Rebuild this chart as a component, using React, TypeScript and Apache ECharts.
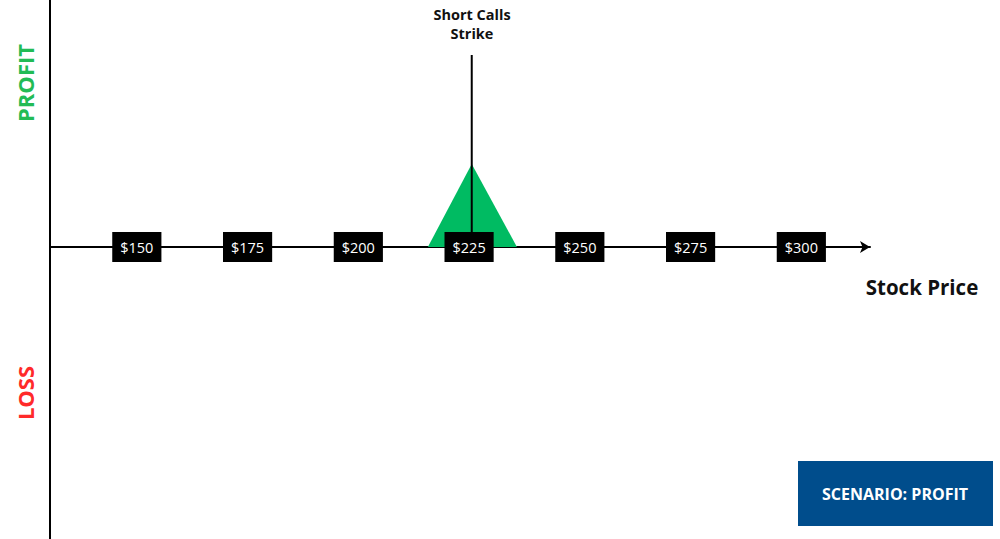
import React, { useEffect, useRef } from "react";
import * as echarts from "echarts";

const priceTicks = [150, 175, 200, 225, 250, 275, 300];
const strikePrice = 225.6;
const strikeLineTop = 192;
const profitTriangle: [number, number][] = [
  [215.7, 0],
  [225.6, 83],
  [235.8, 0],
];
const xTitle = "Stock Price";
const strikeTitle = "Short Calls\nStrike";
const scenarioText = "SCENARIO: PROFIT";

export default function App() {
  const ref = useRef<HTMLDivElement>(null);
  useEffect(() => {
    document.body.style.margin = "0";
    const chart = echarts.init(ref.current!, null, { renderer: "svg" });
    const font = "'Open Sans', 'Noto Sans', sans-serif";
    chart.setOption({
      animation: false,
      backgroundColor: "#ffffff",
      grid: { left: 50, right: 130, top: 0, bottom: 0 },
      xAxis: {
        type: "value",
        min: 130.4,
        max: 315.5,
        axisLine: {
          show: true,
          onZero: true,
          symbol: ["none", "arrow"],
          symbolSize: [9, 10],
          lineStyle: { color: "#000", width: 2 },
        },
        axisTick: { show: false },
        axisLabel: { show: false },
        splitLine: { show: false },
      },
      yAxis: {
        type: "value",
        min: -292,
        max: 247,
        axisLine: { show: true, onZero: false, lineStyle: { color: "#000", width: 2 } },
        axisTick: { show: false },
        axisLabel: { show: false },
        splitLine: { show: false },
      },
      series: [
        {
          type: "line",
          data: profitTriangle,
          symbol: "none",
          lineStyle: { width: 0 },
          areaStyle: { color: "#00bb62", opacity: 1 },
          z: 2,
        },
        {
          type: "line",
          data: [
            [strikePrice, 0],
            [strikePrice, strikeLineTop],
          ],
          symbol: "none",
          lineStyle: { color: "#000", width: 2 },
          z: 3,
        },
        {
          type: "scatter",
          data: priceTicks.map((p) => [p, 0]),
          symbolSize: 0,
          itemStyle: { opacity: 1, color: "#000" },
          z: 5,
          label: {
            show: true,
            position: "inside",
            formatter: (p: any) => "$" + p.value[0],
            backgroundColor: "#000",
            color: "#fff",
            textBorderWidth: 0,
            opacity: 1,
            fontFamily: font,
            fontSize: 14.5,
            lineHeight: 18,
            padding: [7, 8, 5, 8],
            height: 18,
          },
          emphasis: { disabled: true },
        },
      ],
      graphic: [
        {
          type: "text",
          x: 25,
          y: 83,
          rotation: Math.PI / 2,
          style: {
            text: "PROFIT",
            fill: "#22bb55",
            font: `bold 22px ${font}`,
            align: "center",
            verticalAlign: "middle",
          },
        },
        {
          type: "text",
          x: 25,
          y: 393,
          rotation: Math.PI / 2,
          style: {
            text: "LOSS",
            fill: "#ff2a2a",
            font: `bold 22px ${font}`,
            align: "center",
            verticalAlign: "middle",
          },
        },
        {
          type: "text",
          x: 472,
          y: 24,
          style: {
            text: strikeTitle,
            fill: "#111",
            font: `bold 14.5px ${font}`,
            lineHeight: 19,
            align: "center",
            verticalAlign: "middle",
          },
        },
        {
          type: "text",
          x: 922,
          y: 287,
          style: {
            text: xTitle,
            fill: "#111",
            font: `bold 20.5px ${font}`,
            align: "center",
            verticalAlign: "middle",
          },
        },
        {
          type: "rect",
          shape: { x: 798, y: 461, width: 195, height: 65 },
          style: { fill: "#004d8c" },
        },
        {
          type: "text",
          x: 895,
          y: 494,
          style: {
            text: scenarioText,
            fill: "#fff",
            font: `bold 16px ${font}`,
            align: "center",
            verticalAlign: "middle",
          },
        },
      ],
    });
    return () => chart.dispose();
  }, []);
  return <div ref={ref} style={{ width: 1000, height: 539 }} />;
}
